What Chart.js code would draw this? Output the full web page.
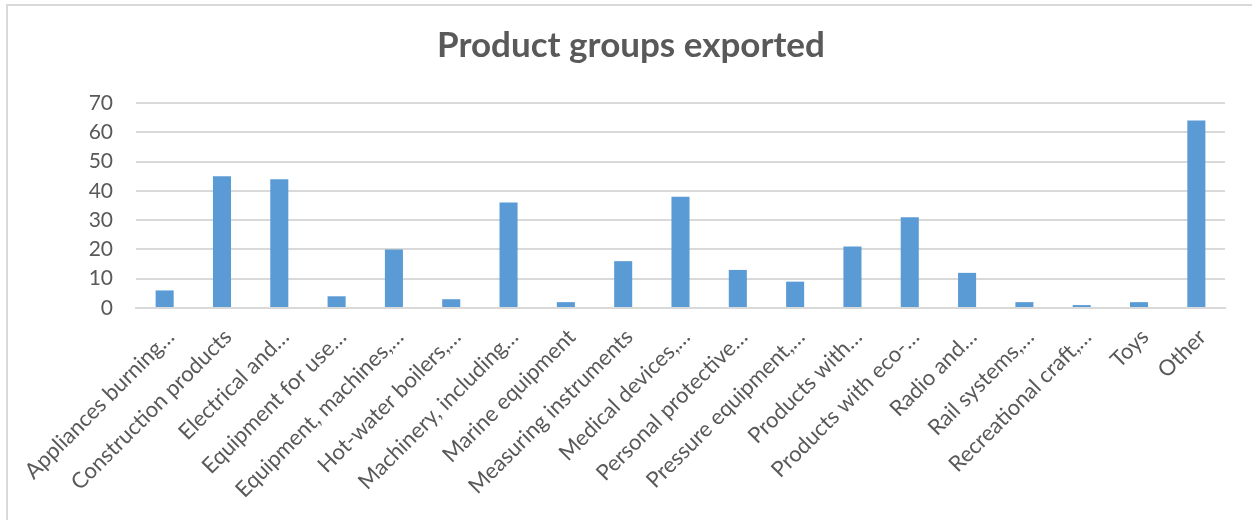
<!DOCTYPE html>
<html>
<head>
<meta charset="utf-8">
<script src="https://cdn.jsdelivr.net/npm/chart.js@4/dist/chart.umd.min.js"></script>
<style>
  html, body { margin: 0; padding: 0; background: #fff; overflow: hidden; }
  #wrap { position: relative; width: 1252px; height: 520px; }
  #frame { position: absolute; left: 6px; top: 4px; width: 1300px; height: 600px;
           border-left: 2px solid #d9d9d9; border-top: 2px solid #d9d9d9; box-sizing: border-box; }
  canvas { position: absolute; left: 0; top: 0; }
</style>
</head>
<body>
<div id="wrap">
  <div id="frame"></div>
  <canvas id="c" width="1252" height="520"></canvas>
</div>
<script>
const categories = [
  "Appliances burning…", "Construction products", "Electrical and…", "Equipment for use…",
  "Equipment, machines,…", "Hot-water boilers,…", "Machinery, including…", "Marine equipment",
  "Measuring instruments", "Medical devices,…", "Personal protective…", "Pressure equipment,…",
  "Products with…", "Products with eco-…", "Radio and…", "Rail systems,…",
  "Recreational craft,…", "Toys", "Other"
];
const seriesValues = [6, 45, 44, 4, 20, 3, 36, 2, 16, 38, 13, 9, 21, 31, 12, 2, 1, 2, 64];
const yTickMin = 0, yTickMax = 70, yTickStep = 10;
const chartTitle = "Product groups exported";

const FONT = "Lato, 'Open Sans', 'DejaVu Sans', sans-serif";
const TXT = "#595959";

new Chart(document.getElementById("c"), {
  type: "bar",
  data: {
    labels: categories,
    datasets: [{
      data: seriesValues,
      backgroundColor: "#5B9BD5",
      borderWidth: 0,
      categoryPercentage: 1,
      barPercentage: 0.315
    }]
  },
  options: {
    responsive: false,
    animation: false,
    devicePixelRatio: 1,
    layout: { padding: { left: 10, right: 0, top: 0, bottom: 0 } },
    plugins: {
      legend: { display: false },
      tooltip: { enabled: false },
      title: {
        display: true,
        text: chartTitle,
        color: TXT,
        font: { family: FONT, size: 35, weight: "bold" },
        padding: { top: 25, bottom: 36 }
      }
    },
    scales: {
      x: {
        grid: { display: false, drawTicks: false },
        border: { display: true, color: "#d9d9d9", width: 2 },
        ticks: {
          color: TXT,
          font: { family: FONT, size: 22 },
          minRotation: 45, maxRotation: 45,
          autoSkip: false,
          padding: 16,
          labelOffset: 6
        },
        afterFit: s => { s.height = 212; }
      },
      y: {
        min: yTickMin, max: yTickMax,
        grid: { color: "#d9d9d9", lineWidth: 2, drawTicks: false },
        border: { display: false },
        ticks: {
          stepSize: yTickStep,
          color: TXT,
          font: { family: FONT, size: 21 },
          padding: 23
        },
        afterFit: s => { s.width = 126; }
      },
      yRight: {
        position: "right",
        display: true,
        min: yTickMin, max: yTickMax,
        grid: { display: false, drawTicks: false },
        border: { display: false },
        ticks: { display: false },
        afterFit: s => { s.width = 27; }
      }
    }
  }
});
</script>
</body>
</html>
